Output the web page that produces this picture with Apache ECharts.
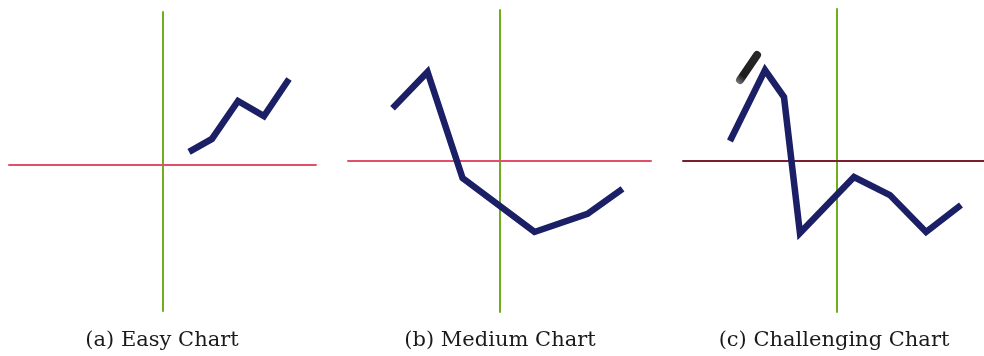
<!DOCTYPE html>
<html>
<head>
<meta charset="utf-8">
<script src="https://cdn.jsdelivr.net/npm/echarts@6/dist/echarts.min.js"></script>
<style>
  html, body { margin: 0; padding: 0; background: #fff; }
  #chart { width: 984px; height: 356px; }
</style>
</head>
<body>
<div id="chart"></div>
<script>
// Captions under each panel
const captions = ['(a) Easy Chart', '(b) Medium Chart', '(c) Challenging Chart'];

// Polyline vertices per panel, as [x, y] in each panel's own value space
const easyX = [1.73, 3.22, 4.92, 6.61, 8.24];
const easyY = [0.84, 1.71, 4.25, 3.24, 5.72];

const mediumX = [-7.06, -4.75, -2.44, 2.31, 5.81, 8.12];
const mediumY = [3.5, 5.9, -1.13, -4.7, -3.5, -1.85];

const hardX = [-7.08, -4.75, -3.49, -2.43, 1.16, 3.55, 5.95, 8.27];
const hardY = [1.29, 5.97, 4.19, -4.79, -1.09, -2.28, -4.72, -2.94];

// Short pen stroke drawn beside the peak of the third chart
const penX = [-6.41, -5.28];
const penY = [5.31, 6.96];

// Axis extents per panel
const xMin = [-10, -10, -10.2];
const xMax = [10, 10, 9.8];
const yMin = [-9.8, -10, -10];
const yMax = [10.2, 10, 10];

const zip = (xs, ys) => xs.map((x, i) => [x, ys[i]]);

const grids = [
  { left: 9, top: 12, width: 307, height: 299 },
  { left: 348, top: 10, width: 303, height: 302 },
  { left: 683, top: 9, width: 301, height: 303 }
];
const hColors = ['#e0506a', '#e0506a', '#7a1f2e'];
const vColor = '#6fae1c';
const navy = '#1b1f66';
const captionCenters = [162, 500, 834];

const chart = echarts.init(document.getElementById('chart'), null, { renderer: 'canvas' });

const xAxes = grids.map((g, i) => ({
  type: 'value', gridIndex: i, min: xMin[i], max: xMax[i],
  axisLine: { onZero: true, lineStyle: { color: hColors[i], width: 2 } },
  axisTick: { show: false }, axisLabel: { show: false }, splitLine: { show: false }
}));
const yAxes = grids.map((g, i) => ({
  type: 'value', gridIndex: i, min: yMin[i], max: yMax[i],
  axisLine: { onZero: true, lineStyle: { color: vColor, width: 2 } },
  axisTick: { show: false }, axisLabel: { show: false }, splitLine: { show: false }
}));

const lineSeries = (data, i) => ({
  type: 'line', xAxisIndex: i, yAxisIndex: i, data: data,
  showSymbol: false, symbol: 'none', z: 5,
  lineStyle: { color: navy, width: 6.5, join: 'miter', cap: 'butt' }
});

chart.setOption({
  animation: false,
  backgroundColor: '#ffffff',
  grid: grids,
  xAxis: xAxes,
  yAxis: yAxes,
  graphic: captions.map((t, i) => ({
    type: 'text', x: captionCenters[i], y: 341, silent: true,
    style: {
      text: t, fill: '#1a1a1a', align: 'center', verticalAlign: 'middle',
      fontFamily: 'DejaVu Serif', fontSize: 21
    }
  })),
  series: [
    lineSeries(zip(easyX, easyY), 0),
    lineSeries(zip(mediumX, mediumY), 1),
    lineSeries(zip(hardX, hardY), 2),
    {
      type: 'line', xAxisIndex: 2, yAxisIndex: 2, data: zip(penX, penY),
      showSymbol: false, symbol: 'none', z: 6,
      lineStyle: {
        width: 8, cap: 'round',
        color: new echarts.graphic.LinearGradient(0, 1, 1, 0, [
          { offset: 0, color: '#8a8a8a' },
          { offset: 0.25, color: '#1e1e1e' },
          { offset: 1, color: '#2a2a2a' }
        ])
      }
    }
  ]
});
</script>
</body>
</html>
